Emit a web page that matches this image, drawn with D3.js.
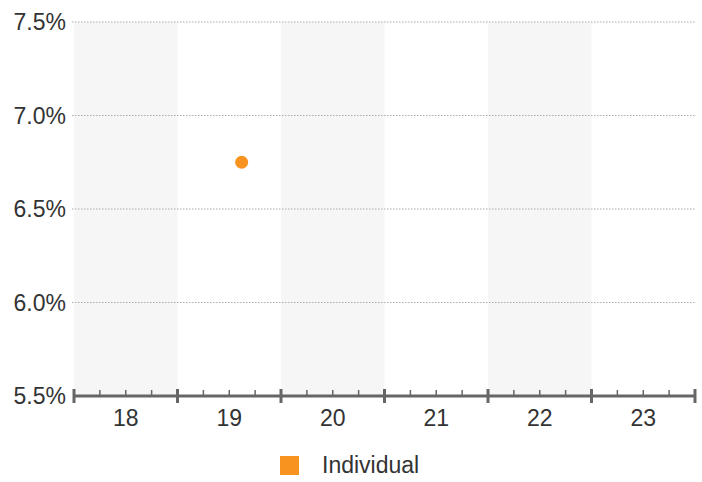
<!DOCTYPE html>
<html><head><meta charset="utf-8">
<script src="https://cdn.jsdelivr.net/npm/d3@7"></script>
<style>
body{margin:0;background:#fff;}
svg{display:block;font-family:Arial,"Liberation Sans",sans-serif;}
</style></head>
<body>
<svg id="chart" width="702" height="482"></svg>
<script>
const categories = [18, 19, 20, 21, 22, 23];
const yTicks = [5.5, 6.0, 6.5, 7.0, 7.5];
const seriesName = "Individual";
const pointsX = [19.12];
const pointsY = [6.75];
const color = "#f7931e";

const svg = d3.select("#chart");
const m = {left: 74, right: 695, top: 22, bottom: 396};
const x = d3.scaleLinear().domain([17.5, 23.5]).range([m.left, m.right]);
const y = d3.scaleLinear().domain([5.5, 7.5]).range([m.bottom, m.top]);

// alternating bands
svg.append("g").selectAll("rect").data(categories.filter((d,i)=>i%2===0)).join("rect")
  .attr("x", d=>x(d-0.5)).attr("width", d=>x(d+0.5)-x(d-0.5))
  .attr("y", m.top).attr("height", m.bottom-m.top).attr("fill", "#f6f6f6");

// gridlines
svg.append("g").selectAll("line").data(yTicks.slice(1)).join("line")
  .attr("x1", m.left-2).attr("x2", m.right).attr("y1", d=>y(d)).attr("y2", d=>y(d))
  .attr("stroke", "#aaa").attr("stroke-width", 1).attr("stroke-dasharray", "1.5,1.5");

// y labels
svg.append("g").selectAll("text").data(yTicks).join("text")
  .attr("x", 66).attr("y", d=>y(d)).attr("dy", "0.35em").attr("text-anchor", "end")
  .attr("font-size", 23).attr("fill", "#333").text(d=>d.toFixed(1)+"%");

// x axis line
svg.append("line").attr("x1", m.left).attr("x2", m.right).attr("y1", m.bottom).attr("y2", m.bottom)
  .attr("stroke", "#666").attr("stroke-width", 3);
// major ticks
const majors = categories.map(d=>d-0.5).concat([categories[categories.length-1]+0.5]);
svg.append("g").selectAll("line").data(majors).join("line")
  .attr("x1", d=>x(d)).attr("x2", d=>x(d)).attr("y1", m.bottom-7).attr("y2", m.bottom+7)
  .attr("stroke", "#666").attr("stroke-width", 3);
// minor ticks
const minors = [];
categories.forEach(c=>{[0.25,0.5,0.75].forEach(f=>minors.push(c-0.5+f));});
svg.append("g").selectAll("line").data(minors).join("line")
  .attr("x1", d=>x(d)).attr("x2", d=>x(d)).attr("y1", m.bottom-6).attr("y2", m.bottom)
  .attr("stroke", "#666").attr("stroke-width", 1.5);
// x labels
svg.append("g").selectAll("text").data(categories).join("text")
  .attr("x", d=>x(d)).attr("y", 426).attr("text-anchor", "middle")
  .attr("font-size", 23).attr("fill", "#333").text(d=>d);

// points
svg.append("g").selectAll("circle").data(pointsX.map((d,i)=>[d,pointsY[i]])).join("circle")
  .attr("cx", d=>x(d[0])).attr("cy", d=>y(d[1])).attr("r", 6.5).attr("fill", color);

// legend
svg.append("rect").attr("x", 280).attr("y", 456).attr("width", 19).attr("height", 19).attr("fill", color);
svg.append("text").attr("x", 322).attr("y", 473).attr("font-size", 23).attr("fill", "#333").text(seriesName);
</script>
</body></html>
